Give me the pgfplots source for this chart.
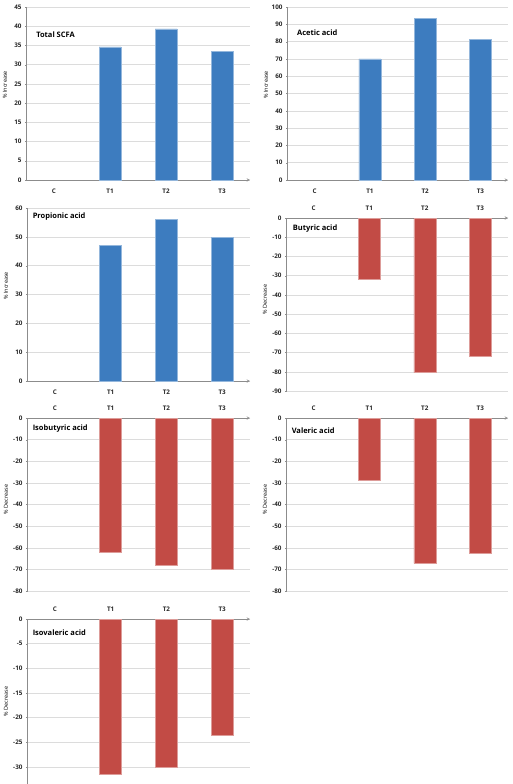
\documentclass[border=0pt]{standalone}
\usepackage{pgfplots}
\pgfplotsset{compat=1.18}
\usepackage{fontspec}
\setmainfont{Open Sans}
\definecolor{barblue}{HTML}{3D7CBF}
\definecolor{barred}{HTML}{C24B45}
\definecolor{gridgray}{HTML}{DCDCDC}
\definecolor{axgray}{HTML}{8C8C8C}
\pgfplotsset{
  panel/.style={
    scale only axis,
    width=222pt, height=173pt,
    anchor=north west,
    xmin=-0.5, xmax=3.5,
    xtick={0,1,2,3}, xticklabels={C,T1,T2,T3},
    extra x ticks={-0.5,0.5,1.5,2.5,3.5},
    extra x tick labels={},
    extra x tick style={major tick length=3pt, tick style={draw=axgray}},
    major x tick style={draw=none},
    major tick length=2pt,
    tick align=outside,
    axis y line=left,
    axis line style={-, draw=axgray, line width=0.5pt},
    ytick style={draw=axgray},
    ymajorgrids, grid style={draw=gridgray, line width=0.5pt},
    /pgf/number format/assume math mode=true,
    tick label style={font=\bfseries\fontsize{6.3}{7}\selectfont, text=black!85},
    ybar, bar width=22pt,
    clip=false,
  },
  pos/.style={panel, axis x line=bottom, ymin=0, xticklabel style={yshift=-4pt}},
  neg/.style={panel, axis x line=top, ymax=0, xticklabel style={yshift=3pt}},
  bluebar/.style={fill=barblue, draw=barblue!55!white, line width=0.5pt},
  redbar/.style={fill=barred, draw=barred!55!white, line width=0.5pt},
}
\newcommand{\ttl}[3]{\node[anchor=west, font=\bfseries\fontsize{7.5}{8}\selectfont] at (rel axis cs:#1,#2) {#3};}
\newcommand{\ylab}[2]{\node[rotate=90, font=\fontsize{5.5}{6}\selectfont] at ([xshift=-21pt]rel axis cs:0,#1) {#2};}
\begin{document}
\begin{tikzpicture}
\path[use as bounding box] (0,0) rectangle (512pt,-784pt);
% Panel 1: Total SCFA
\begin{axis}[pos, at={(26pt,-7pt)}, width=224pt, ymax=45, ytick distance=5]
\addplot[bluebar] coordinates {(1,34.6) (2,39.3) (3,33.4)};
\ttl{0.03}{0.84}{Total SCFA}
\ylab{0.55}{\% Increase}
\end{axis}
% Panel 2: Acetic acid
\begin{axis}[pos, at={(287pt,-7pt)}, width=221pt, ymax=100, ytick distance=10]
\addplot[bluebar] coordinates {(1,70.0) (2,93.4) (3,81.1)};
\ttl{0.03}{0.85}{Acetic acid}
\ylab{0.55}{\% Increase}
\end{axis}
% Panel 3: Propionic acid
\begin{axis}[pos, at={(27pt,-208pt)}, width=223pt, ymax=60, ytick distance=10]
\addplot[bluebar] coordinates {(1,47.0) (2,56.0) (3,49.8)};
\ttl{0.01}{0.95}{Propionic acid}
\ylab{0.55}{\% Increase}
\end{axis}
% Panel 4: Butyric acid
\begin{axis}[neg, at={(286pt,-218pt)}, width=222pt, ymin=-90, ytick distance=10]
\addplot[redbar] coordinates {(1,-32.0) (2,-80.4) (3,-72.0)};
\ttl{0.015}{0.94}{Butyric acid}
\ylab{0.53}{\% Decrease}
\end{axis}
% Panel 5: Isobutyric acid
\begin{axis}[neg, at={(27pt,-418pt)}, width=223pt, ymin=-80, ytick distance=10]
\addplot[redbar] coordinates {(1,-62.2) (2,-68.1) (3,-69.8)};
\ttl{0.01}{0.94}{Isobutyric acid}
\ylab{0.53}{\% Decrease}
\end{axis}
% Panel 6: Valeric acid
\begin{axis}[neg, at={(286pt,-418pt)}, width=222pt, ymin=-80, ytick distance=10]
\addplot[redbar] coordinates {(1,-28.9) (2,-67.2) (3,-62.7)};
\ttl{0.01}{0.925}{Valeric acid}
\ylab{0.53}{\% Decrease}
\end{axis}
% Panel 7: Isovaleric acid
\begin{axis}[neg, at={(27pt,-619pt)}, width=223pt, height=165pt, ymin=-33.5, ytick={-30,-25,...,0}]
\addplot[redbar] coordinates {(1,-31.5) (2,-30.1) (3,-23.6)};
\ttl{0.01}{0.92}{Isovaleric acid}
\ylab{0.5}{\% Decrease}
\end{axis}
\end{tikzpicture}
\end{document}
